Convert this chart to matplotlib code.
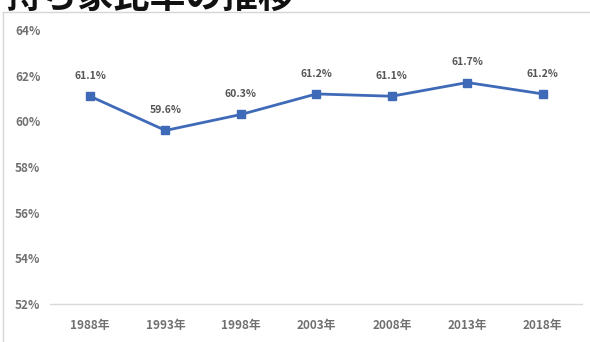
import matplotlib
matplotlib.use('Agg')
import matplotlib.pyplot as plt
from matplotlib.lines import Line2D

plt.rcParams['font.family'] = ['Noto Sans CJK JP', 'DejaVu Sans']

# data
years = ['1988年', '1993年', '1998年', '2003年', '2008年', '2013年', '2018年']
rate = [61.1, 59.6, 60.3, 61.2, 61.1, 61.7, 61.2]
yticks = [52, 54, 56, 58, 60, 62, 64]
title = '持ち家比率の推移'

fig = plt.figure(figsize=(5.9, 3.42), dpi=100)
ax = fig.add_axes([50/590, 1 - 304/342, 532/590, 274/342])

x = list(range(len(years)))
ax.plot(x, rate, color='#3F6AB8', linewidth=2.0, marker='s', markersize=5.5,
        markerfacecolor='#3F6AB8', markeredgecolor='#3F6AB8')
for xi, v in zip(x, rate):
    ax.annotate(f'{v:.1f}%', (xi, v), xytext=(0, 11), textcoords='offset points',
                ha='center', va='bottom', fontsize=7.5, color='#555555', fontweight='bold')

ax.set_xlim(-0.53, 6.52)
ax.set_ylim(52, 64)
ax.set_yticks(yticks)
ax.set_yticklabels([f'{t}%' for t in yticks])
ax.set_xticks(x)
ax.set_xticklabels(years)
ax.tick_params(axis='both', length=0, labelsize=8.5, colors='#707070')
ax.tick_params(axis='y', pad=7)
ax.tick_params(axis='x', pad=11)
for lbl in ax.get_xticklabels() + ax.get_yticklabels():
    lbl.set_fontweight('bold')
for s in ['top', 'right', 'left']:
    ax.spines[s].set_visible(False)
ax.spines['bottom'].set_color('#d9d9d9')
ax.spines['bottom'].set_linewidth(1.0)

# outer frame lines of the original screenshot
fig.add_artist(Line2D([3/590, 1], [1 - 12/342, 1 - 12/342], transform=fig.transFigure,
                      color='#d6d6d6', linewidth=1.0))
fig.add_artist(Line2D([3/590, 3/590], [0, 1 - 12/342], transform=fig.transFigure,
                      color='#d6d6d6', linewidth=1.0))

# title, cut off at the top
fig.text(5/590, 1 - 8/342, title, ha='left', va='baseline', fontsize=26,
         fontweight='bold', color='#111111')

fig.savefig('out.png', dpi=100)
